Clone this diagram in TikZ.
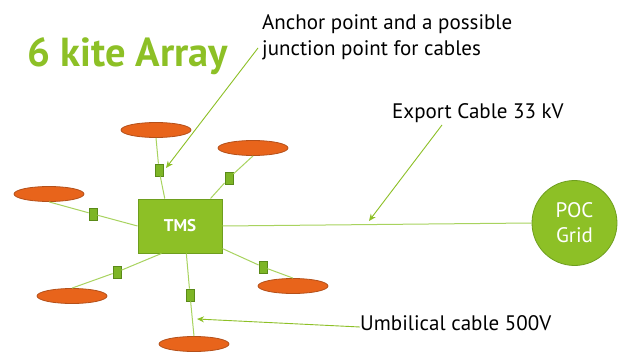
\documentclass[tikz,border=0pt]{standalone}
\usepackage{fontspec}
\setmainfont{PT Sans}
\usetikzlibrary{shapes.geometric,arrows.meta}
\definecolor{kgreen}{HTML}{8DC026}
\definecolor{kgreendark}{HTML}{6E9E1E}
\definecolor{kline}{HTML}{A8D35F}
\definecolor{korange}{HTML}{E8641B}
\definecolor{korangedark}{HTML}{B4501A}
\definecolor{jfill}{HTML}{7DB526}
\definecolor{jdraw}{HTML}{5A8A18}
\tikzset{
  kite/.style={ellipse,fill=korange,draw=korangedark,line width=0.8pt,minimum width=70pt,minimum height=15pt,inner sep=0pt},
  jbox/.style={rectangle,fill=jfill,draw=jdraw,line width=0.8pt,minimum width=8pt,minimum height=12pt,inner sep=0pt},
  cable/.style={kline,line width=1pt},
  pointer/.style={kgreen,line width=0.9pt,-{Stealth[length=7pt,width=6pt]}},
  lbl/.style={inner sep=0pt,font=\fontsize{21}{24}\selectfont,text=black}
}
\begin{document}
\begin{tikzpicture}[x=1pt,y=-1pt]
\useasboundingbox[fill=white] (0,0) rectangle (622,353);
% title
\node[anchor=base west,inner sep=0pt,text=kgreen,font=\fontsize{40.5}{46}\bfseries\selectfont] (title) at (27,67) {6 kite Array};
% central nodes
\node[rectangle,fill=kgreen,draw=kgreendark,line width=1pt,minimum width=84pt,minimum height=54pt,text=white,font=\fontsize{17}{20}\bfseries\selectfont] (tms) at (180,226) {TMS};
\node[circle,fill=kgreen,draw=kgreendark,line width=0.8pt,minimum size=85pt,inner sep=0pt,text=white,align=center,font=\fontsize{21}{25}\selectfont] (poc) at (574.5,223) {POC\\Grid};
% kites
\node[kite] (e1) at (156,130) {};
\node[kite] (e2) at (253,148) {};
\node[kite] (e3) at (49,194) {};
\node[kite] (e4) at (72,296) {};
\node[kite] (e5) at (194,344) {};
\node[kite] (e6) at (293,286) {};
% junction boxes
\node[jbox] (j1) at (159,170) {};
\node[jbox] (j2) at (229,178) {};
\node[jbox] (j3) at (93,214) {};
\node[jbox] (j4) at (117,272) {};
\node[jbox] (j5) at (190,295) {};
\node[jbox] (j6) at (263,267) {};
% cables
\draw[cable] (e1.south) -- (j1) -- (tms.119);
\draw[cable] (e2.south) -- (j2) -- (tms.42);
\draw[cable] (e3.south) -- (j3) -- (tms.west);
\draw[cable] (e4.north) -- (j4) -- (tms.236);
\draw[cable] (e5.north) -- (j5) -- (tms.283);
\draw[cable] (e6.north) -- (j6) -- (tms.332);
\draw[cable] (tms.east) -- (poc.west);
% labels
\node[lbl,anchor=base west] (anch) at (262,30) {Anchor point and a possible};
\node[lbl,anchor=base west] (anch2) at (262,56) {junction point for cables};
\node[lbl,anchor=base west] (exp) at (392,119) {Export Cable 33 kV};
\node[lbl,anchor=base west] (umb) at (360,330) {Umbilical cable 500V};
% pointers
\coordinate (pa) at (258,48);
\coordinate (pat) at (166,168);
\coordinate (pe) at (442,125);
\coordinate (pet) at (369,221);
\coordinate (pu) at (360,327);
\coordinate (put) at (197,319);
\draw[pointer] (pa) -- (pat);
\draw[pointer] (pe) -- (pet);
\draw[pointer] (pu) -- (put);
\end{tikzpicture}
\end{document}
